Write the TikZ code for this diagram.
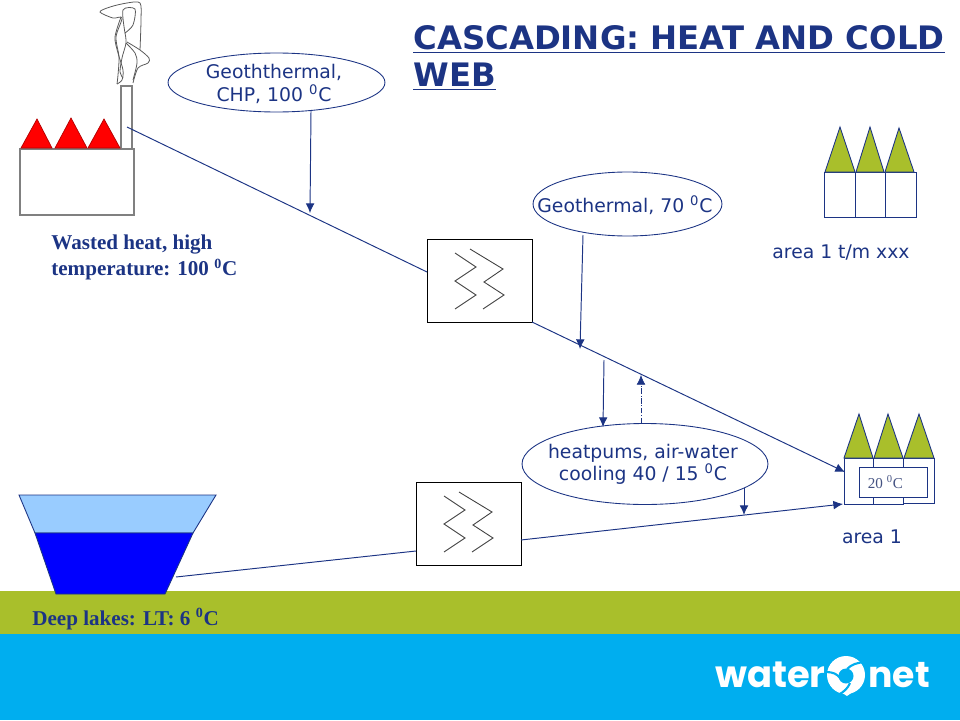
\documentclass[tikz,border=0pt]{standalone}
\usepackage{fontspec}
\setmainfont{Liberation Serif}
\setsansfont{DejaVu Sans}
\newfontfamily\logofont{Poppins}
\usetikzlibrary{arrows.meta,shapes.geometric}
\definecolor{navy}{HTML}{1C3484}
\definecolor{leaf}{HTML}{A9BF2B}
\definecolor{sky}{HTML}{00AEEF}
\definecolor{shallow}{HTML}{99CCFF}
\tikzset{
  flow/.style={draw=navy,line width=0.55pt},
  feed/.style={flow,-{Latex[length=5.5pt,width=5pt]}},
  bubble/.style={ellipse,draw=navy,line width=0.5pt,inner sep=0pt},
  hxbox/.style={draw=black,line width=0.45pt,minimum width=2.1cm,minimum height=1.66cm,inner sep=0pt},
  sans/.style={text=navy,font=\sffamily\fontsize{10.7}{12.6}\selectfont,inner sep=0pt,align=center},
  serif/.style={text=navy,font=\rmfamily\bfseries\fontsize{12}{14.7}\selectfont,inner sep=0pt,align=left},
  roof/.style={draw=navy,line width=0.5pt,fill=leaf},
  wall/.style={draw=navy,line width=0.5pt},
  redroof/.style={draw=red!70!black,line width=0.4pt,fill=red},
  zig/.style={draw=black!75,line width=0.5pt},
  smoke/.style={draw=black!65,line width=0.45pt},
  slit/.style={draw=sky,line width=1.2pt}
}
\begin{document}
\begin{tikzpicture}[x=0.02cm,y=-0.02cm]
    \useasboundingbox (0,0) rectangle (960,720);
    \fill[leaf] (0,591) rectangle (960,634);
    \fill[sky] (0,634) rectangle (960,720);
    % factory
    \draw[draw=black!50,line width=0.7pt]
    (20,149) rectangle (134,215)
    (121,86) rectangle (132,149);
    \draw[redroof] (21,148) -- (37,119) -- (52,148) -- cycle;
    \draw[redroof] (55,148) -- (71,118) -- (87,148) -- cycle;
    \draw[redroof] (88,148) -- (104,119) -- (120,148) -- cycle;
    \draw[smoke] plot[smooth,tension=0.5] coordinates {(117,84) (118,75) (119,57) (116,37) (122,18) (113,18) (100,12) (110,7) (127,3) (140,3) (141,20) (140,50)};
    \draw[smoke] plot[smooth,tension=0.5] coordinates {(127,42) (140,50) (149,58) (148,63) (138,68) (133,83)};
    \draw[smoke] plot[smooth,tension=0.5] coordinates {(125,33) (123,10) (135,9) (133,25) (125,33)};
    \draw[smoke] plot[smooth,tension=0.5] coordinates {(121,17) (115,37) (118,53) (123,70) (122,80) (117,84)};
    \draw[smoke] plot[smooth,tension=0.5] coordinates {(125,33) (126,43) (122,58) (120,72) (123,78)};
    \draw[smoke] plot[smooth,tension=0.5] coordinates {(126,43) (135,53) (137,63) (133,80)};
    % houses top right
    \draw[wall] (824,172) rectangle (855,217) (855,172) rectangle (885,217) (885,172) rectangle (916,217);
    \draw[roof] (825,172) -- (840,127) -- (855,172) -- cycle;
    \draw[roof] (856,172) -- (870,127) -- (884,172) -- cycle;
    \draw[roof] (885,172) -- (899,128) -- (914,172) -- cycle;
    % houses area 1
    \draw[wall] (844,458) rectangle (873,504) (873,458) rectangle (903,504) (903,458) rectangle (934,503);
    \draw[roof] (844,458) -- (859,414) -- (873,458) -- cycle;
    \draw[roof] (874,458) -- (888,414) -- (903,458) -- cycle;
    \draw[roof] (904,458) -- (919,414) -- (934,458) -- cycle;
    \node[draw=navy,line width=0.5pt,fill=white,minimum width=1.36cm,minimum height=0.6cm,inner sep=0pt] (room) at (893,482) {};
    \node[text=navy!60!gray,font=\rmfamily\fontsize{8.6}{10}\selectfont,inner sep=0pt] (roomtemp) at (885.5,482) {20 \textsuperscript{0}C};
    % lake
    \draw[draw=navy,line width=0.5pt,fill=shallow] (19,495) -- (216,495) -- (193,533) -- (35,533) -- cycle;
    \draw[draw=navy,line width=0.5pt,fill=blue] (35,533) -- (193,533) -- (165,594) -- (56,594) -- cycle;
    % exchangers
    \node[hxbox] (hxa) at (479.5,280.5) {};
    \node[hxbox] (hxb) at (468.5,523.5) {};
    \foreach \hx in {hxa,hxb}{
      \begin{scope}[shift={(\hx.center)}]
        \draw[zig] (-24.5,-27.5) -- (-3.5,-13.5) -- (-24.5,0.5) -- (-3.5,14.5) -- (-24.5,28.5);
        \draw[zig] (-9.5,-31.5) -- (23.5,-11.5) -- (4.5,1.5) -- (24.5,14.5) -- (3.5,28.5);
      \end{scope}
    }
    % bubbles
    \node[bubble,minimum width=4.34cm,minimum height=1.18cm] (chp) at (276.5,82.5) {};
    \node[bubble,minimum width=3.78cm,minimum height=1.28cm] (geo) at (627.5,204) {};
    \node[bubble,minimum width=4.92cm,minimum height=1.62cm] (pump) at (645,464) {};
    \node[sans] (chptext) at (274,84) {Geoththermal,\\CHP, 100 \textsuperscript{0}C};
    \node[sans] (geotext) at (625,205) {Geothermal, 70 \textsuperscript{0}C};
    \node[sans] (pumptext) at (643,464.5) {heatpums, air-water\\cooling 40 / 15 \textsuperscript{0}C};
    % free ends
    \coordinate (stack) at (127,127);
    \coordinate (hxain) at (427,272);
    \coordinate (hxaout) at (532,322);
    \coordinate (roomin) at (845,472);
    \coordinate (lakeout) at (176,577);
    \coordinate (hxbin) at (416,551);
    \coordinate (hxbout) at (521,540);
    \coordinate (roomlow) at (843,504);
    \coordinate (chpdrop) at (310,213);
    \coordinate (geodrop) at (580,349);
    \coordinate (tap) at (604,360);
    \coordinate (back) at (641,375);
    \coordinate (cooldrop) at (744,515);
    \coordinate (chpfoot) at (311,111);
    \coordinate (geofoot) at (583,235);
    \coordinate (pumptop) at (603,427);
    \coordinate (pumpback) at (641,423);
    \coordinate (pumpfoot) at (744,488);
    % connectors
    \draw[flow] (stack) to (hxain);
    \draw[feed] (hxaout) to (roomin);
    \draw[flow] (lakeout) to (hxbin);
    \draw[feed] (hxbout) to (roomlow);
    \draw[feed] (chpfoot) to (chpdrop);
    \draw[feed] (geofoot) to (geodrop);
    \draw[feed] (tap) to (pumptop);
    \draw[feed,densely dashdotted,line width=0.4pt] (pumpback) to (back);
    \draw[feed] (pumpfoot) to (cooldrop);
    % labels
    \node[anchor=north west,text=navy,font=\sffamily\bfseries\fontsize{18.4}{21.4}\selectfont,inner sep=0pt,align=left] (title) at (413,25) {\underline{CASCADING: HEAT AND COLD}\\\underline{WEB}};
    \node[serif,anchor=north west] (waste) at (51,235) {Wasted heat, high\\temperature: 100 \textsuperscript{0}C};
    \node[serif,anchor=west] (deep) at (32,619) {Deep lakes: LT: 6 \textsuperscript{0}C};
    \node[sans] (areatop) at (841,253) {area 1 t/m xxx};
    \node[sans] (arealow) at (872,537) {area 1};
    % logo
    \node[text=white,font=\logofont\bfseries\fontsize{21}{24}\selectfont,inner sep=0pt,anchor=east] (logoa) at (826,675) {water};
    \node[text=white,font=\logofont\bfseries\fontsize{20.6}{24}\selectfont,inner sep=0pt,anchor=west] (logob) at (868,675) {net};
    \fill[white] (846,675) circle (19);
    \fill[white] (832,686) -- (847,696) -- (861,686) -- cycle;
    \fill[sky] (846,676) circle (7.5);
    \draw[slit] (847,669) .. controls (852,664) and (857,663) .. (864,662);
    \draw[slit] (840,678) .. controls (837,674) and (833,672) .. (826,672);
    \draw[slit] (850,683) .. controls (848,688) and (844,692) .. (838,695);
\end{tikzpicture}
\end{document}
